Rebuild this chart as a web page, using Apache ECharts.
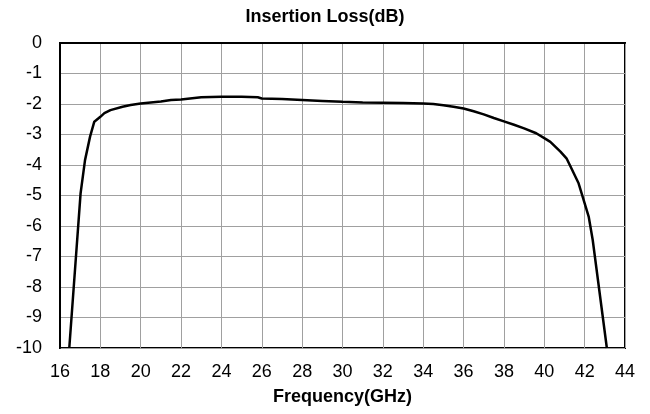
<!DOCTYPE html>
<html>
<head>
<meta charset="utf-8">
<script src="https://cdn.jsdelivr.net/npm/echarts@6/dist/echarts.min.js"></script>
<style>html,body{margin:0;padding:0;background:#fff}#c{width:650px;height:414px}</style>
</head>
<body>
<div id="c"></div>
<script>
var freqGHz = [16.46, 17.02, 17.24, 17.49, 17.7, 18.0, 18.2, 18.5, 19.1, 19.5, 20.0, 21.0, 21.5, 22.0, 23.0, 24.0, 25.0, 25.8, 26.0, 27.0, 28.0, 29.0, 30.0, 31.0, 32.0, 33.0, 34.0, 34.5, 35.0, 35.5, 36.0, 36.5, 37.0, 37.5, 38.0, 38.5, 39.0, 39.6, 40.1, 40.3, 40.8, 41.1, 41.3, 41.7, 41.9, 42.2, 42.4, 43.1];
var lossDB = [-10, -4.93, -3.84, -3.07, -2.58, -2.42, -2.30, -2.2, -2.09, -2.03, -1.98, -1.92, -1.87, -1.85, -1.78, -1.76, -1.76, -1.78, -1.82, -1.84, -1.87, -1.9, -1.93, -1.95, -1.96, -1.97, -1.98, -2.0, -2.04, -2.09, -2.15, -2.24, -2.34, -2.46, -2.57, -2.68, -2.80, -2.96, -3.16, -3.24, -3.56, -3.78, -4.05, -4.6, -5.04, -5.69, -6.46, -10];
var titleText = 'Insertion Loss(dB)';
var xName = 'Frequency(GHz)';

var pts = freqGHz.map(function (f, i) { return [f, lossDB[i]]; });
var font = 'Liberation Sans, Arial, Helvetica, sans-serif';
var chart = echarts.init(document.getElementById('c'), null, {renderer: 'canvas'});
chart.setOption({
  animation: false,
  backgroundColor: '#fff',
  title: {
    text: titleText, left: 'center', top: 3,
    textStyle: {fontFamily: font, fontSize: 18, fontWeight: 'bold', color: '#000'}
  },
  grid: {left: 60, right: 25, top: 43, bottom: 66, show: true, borderColor: '#000', borderWidth: 2, backgroundColor: 'transparent'},
  xAxis: {
    type: 'value', min: 16, max: 44, interval: 2,
    name: xName, nameLocation: 'middle', nameGap: 40,
    nameTextStyle: {fontFamily: font, fontSize: 18, fontWeight: 'bold', color: '#000'},
    axisLine: {show: true, lineStyle: {color: '#000', width: 2}},
    axisTick: {show: false},
    axisLabel: {fontFamily: font, fontSize: 18, color: '#000', margin: 15},
    splitLine: {show: true, lineStyle: {color: '#a0a0a0', width: 1}}
  },
  yAxis: {
    type: 'value', min: -10, max: 0, interval: 1,
    axisLine: {show: true, lineStyle: {color: '#000', width: 2}},
    axisTick: {show: false},
    axisLabel: {fontFamily: font, fontSize: 18, color: '#000', margin: 18},
    splitLine: {show: true, lineStyle: {color: '#a0a0a0', width: 1}}
  },
  series: [{
    type: 'line', data: pts, showSymbol: false, smooth: false,
    lineStyle: {color: '#000', width: 2.5}, clip: true
  }]
});
</script>
</body>
</html>
